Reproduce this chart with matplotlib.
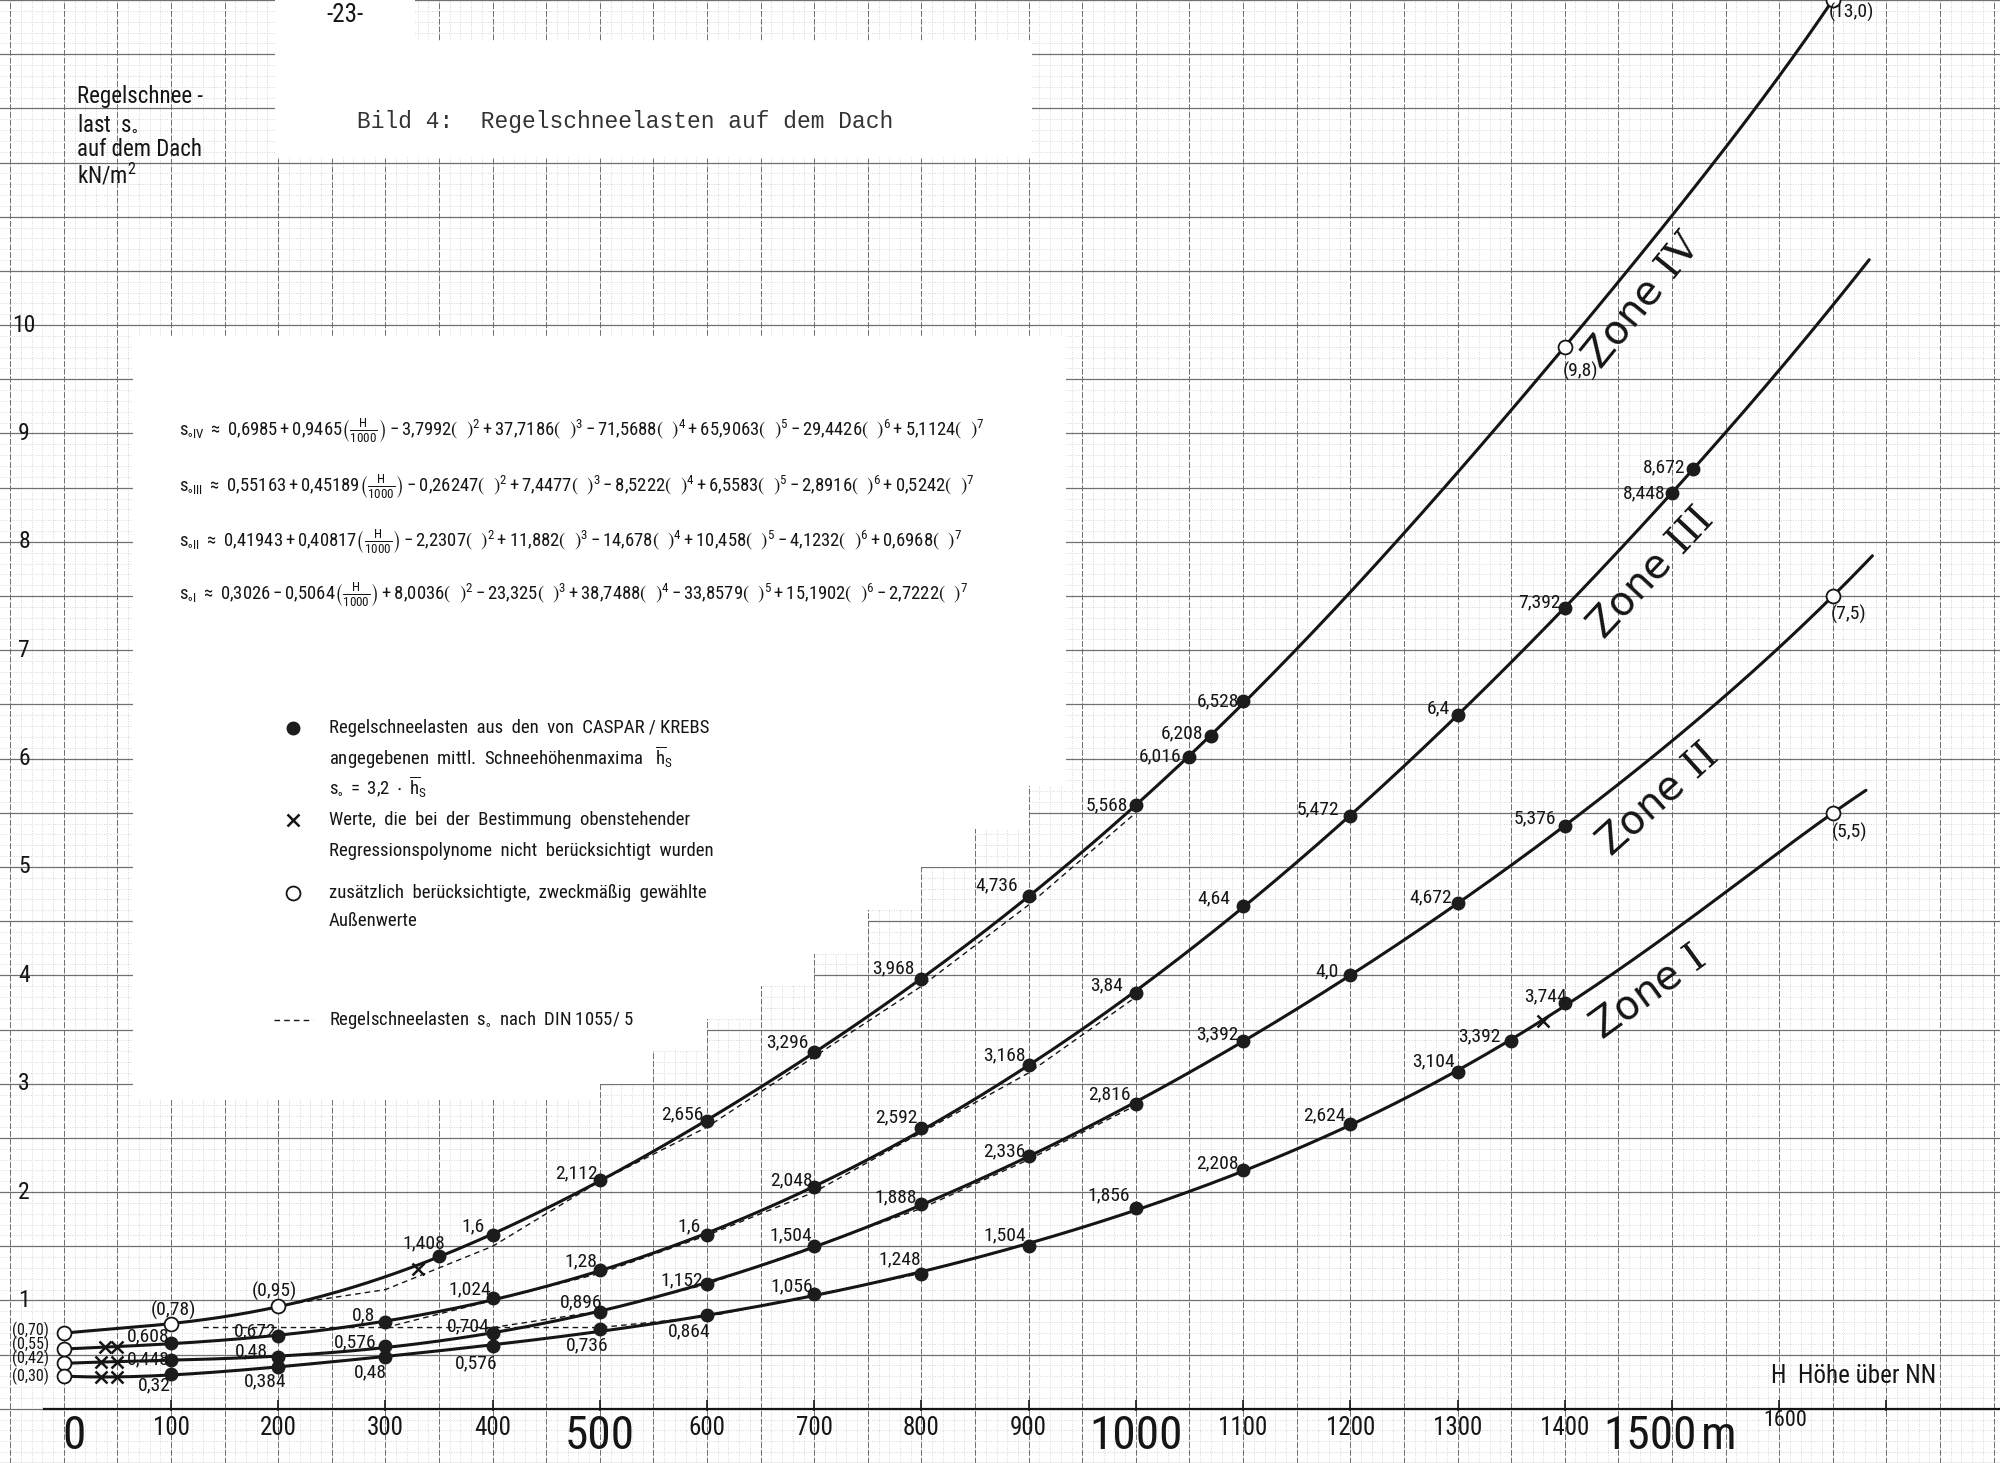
import os
import matplotlib
matplotlib.use("Agg")
import matplotlib.pyplot as plt
from matplotlib import font_manager
from matplotlib.font_manager import FontProperties
from matplotlib.patches import Polygon
import numpy as np

# regression polynomials printed on the sheet: s0 = sum c_k * (H/1000)^k
coef_iv = [0.6985, 0.9465, -3.7992, 37.7186, -71.5688, 65.9063, -29.4426, 5.1124]
coef_iii = [0.55163, 0.45189, -0.26247, 7.4477, -8.5222, 6.5583, -2.8916, 0.5242]
coef_ii = [0.41943, 0.40817, -2.2307, 11.882, -14.678, 10.458, -4.1232, 0.6968]
coef_i = [0.3026, -0.5064, 8.0036, -23.325, 38.7488, -33.8579, 15.1902, -2.7222]
curve_end = {"IV": 1650, "III": 1684, "II": 1687, "I": 1681}

# CASPAR / KREBS values (filled dots)
iv_h = [350, 400, 500, 600, 700, 800, 900, 1000, 1050, 1070, 1100]
iv_s = [1.408, 1.6, 2.112, 2.656, 3.296, 3.968, 4.736, 5.568, 6.016, 6.208, 6.528]
iii_h = [100, 200, 300, 400, 500, 600, 700, 800, 900, 1000, 1100, 1200, 1300, 1400, 1500, 1520]
iii_s = [0.608, 0.672, 0.8, 1.024, 1.28, 1.6, 2.048, 2.592, 3.168, 3.84, 4.64, 5.472, 6.4,
         7.392, 8.448, 8.672]
ii_h = [100, 200, 300, 400, 500, 600, 700, 800, 900, 1000, 1100, 1200, 1300, 1400]
ii_s = [0.448, 0.48, 0.576, 0.704, 0.896, 1.152, 1.504, 1.888, 2.336, 2.816, 3.392, 4.0,
        4.672, 5.376]
i_h = [100, 200, 300, 400, 500, 600, 700, 800, 900, 1000, 1100, 1200, 1300, 1350, 1400]
i_s = [0.32, 0.384, 0.48, 0.576, 0.736, 0.864, 1.056, 1.248, 1.504, 1.856, 2.208, 2.624,
       3.104, 3.392, 3.744]

# chosen boundary values (open circles)
iv_open_h = [0, 100, 200, 1400, 1650]
iv_open_s = [0.70, 0.78, 0.95, 9.8, 13.0]
iii_open_h = [0]
iii_open_s = [0.55]
ii_open_h = [0, 1650]
ii_open_s = [0.42, 7.5]
i_open_h = [0, 1650]
i_open_s = [0.30, 5.5]

# values not used for the regression (crosses)
iv_x_h = [330]
iv_x_s = [1.29]
iii_x_h = [38, 50]
iii_x_s = [0.57, 0.57]
ii_x_h = [35, 50]
ii_x_s = [0.43, 0.43]
i_x_h = [35, 50, 1380]
i_x_s = [0.295, 0.29, 3.58]

# DIN 1055/5 (dashed)
din_iv_h = [200, 300, 400, 500, 600, 700, 800, 900, 1000]
din_iv_s = [0.95, 1.10, 1.50, 2.10, 2.60, 3.25, 3.90, 4.65, 5.50]
din_iii_h = [300, 400, 500, 600, 700, 800, 900, 1000]
din_iii_s = [0.75, 1.00, 1.25, 1.60, 2.00, 2.55, 3.10, 3.80]
din_ii_h = [400, 500, 600, 700, 800, 900, 1000]
din_ii_s = [0.75, 0.90, 1.15, 1.50, 1.85, 2.30, 2.80]
din_i_h = [130, 500, 600, 700, 800]
din_i_s = [0.75, 0.75, 0.85, 1.05, 1.25]

small_xticks = [100, 200, 300, 400, 600, 700, 800, 900, 1100, 1200, 1300, 1400]
big_xticks = [0, 500, 1000]
yticks = list(range(1, 11))

# label offsets (screen px of the reference, right/up positive)
iv_off = [(-12, 10), (-15, 7), (-18, 5), (-19, 5), (-21, 7), (-22, 8), (-25, 8), (-23, 0),
          (-23, 0), (-23, 2), (-20, 0)]
iv_open_off = [(-26, 2), (2, 11), (-3, 11), (12, -19), (15, -10)]
iii_off = [(-18, 5), (-18, 4), (-17, 5), (-18, 7), (-15, 7), (-14, 7), (-18, 5), (-20, 8),
           (-19, 8), (-23, 6), (-23, 6), (-25, 5), (-15, 5), (-20, 4), (-22, 0), (-23, 1)]
iii_open_off = [(-26, 4)]
ii_off = [(-18, 1), (-21, 4), (-24, 3), (-19, 5), (-15, 7), (-20, 3), (-18, 8), (-20, 5),
          (-19, 3), (-21, 7), (-20, 5), (-18, 3), (-21, 4), (-23, 6)]
ii_open_off = [(-26, 4), (12, -14)]
i_off = [(-13, -9), (-10, -11), (-12, -12), (-13, -13), (-10, -13), (-14, -13), (-18, 6),
         (-17, 11), (-19, 8), (-21, 10), (-20, 5), (-20, 7), (-19, 9), (-25, 4), (-15, 5)]
i_open_off = [(-26, 0), (13, -15)]

# the sheet is lettered in a narrow stencil face; use a condensed font if one is installed
prefer = ["LiberationSansNarrow-Regular", "NotoSans-Condensed.", "NotoSans-Condensed-",
          "RobotoCondensed-Regular", "OpenSans-CondensedRegular", "OpenSans_Condensed-Regular",
          "DejaVuSansCondensed.", "NotoSans-SemiCondensed.", "NotoSans-ExtraCondensed."]
files = [f.fname for f in font_manager.fontManager.ttflist]
narrow_file = None
for p in prefer:
    hit = [f for f in files if os.path.basename(f).startswith(p)]
    if hit:
        narrow_file = hit[0]
        break
if narrow_file is None:
    hit = [f for f in files if ("Condensed" in f or "Narrow" in f)
           and "Bold" not in f and "Italic" not in f and "Light" not in f]
    narrow_file = hit[0] if hit else None

if narrow_file:
    narrow_name = FontProperties(fname=narrow_file).get_name()
    plt.rcParams["mathtext.rm"] = narrow_name
    plt.rcParams["mathtext.it"] = narrow_name
    plt.rcParams["mathtext.sf"] = narrow_name
    plt.rcParams["mathtext.bf"] = narrow_name
    plt.rcParams["mathtext.fallback"] = "stixsans"
    mff = "custom"
else:
    mff = "dejavusans"


def nfp(size):
    if narrow_file:
        return FontProperties(fname=narrow_file, size=size)
    return FontProperties(family="DejaVu Sans", size=size * 0.82)


names = {f.name for f in font_manager.fontManager.ttflist}
mono = "Liberation Mono" if "Liberation Mono" in names else "DejaVu Sans Mono"

ink = "#151515"

fig = plt.figure(figsize=(20, 14.63), dpi=100)
ax = fig.add_axes([0, 0, 1, 1])
ax.set_xlim(-59.5, 1806)
ax.set_ylim(-0.5, 13.0)
ax.axis("off")

# graph paper
ax.vlines(np.arange(-50, 1810, 10), -0.5, 13, colors="#b4b4b4", lw=0.5,
          linestyles=(0, (1, 2.5)), zorder=0)
ax.hlines(np.arange(-0.5, 13.01, 0.1), -60, 1810, colors="#b4b4b4", lw=0.5,
          linestyles=(0, (1, 2.5)), zorder=0)
ax.vlines(np.arange(-50, 1810, 50), -0.5, 13, colors="#6e6e6e", lw=0.7,
          linestyles=(0, (6, 2)), zorder=0.2)
ax.hlines(np.arange(-0.5, 13.01, 0.5), -60, 1810, colors="#707070", lw=0.9, zorder=0.2)

# blank areas pasted over the paper
steps = [(500, 2.85), (550, 3.0), (600, 3.3), (650, 3.6), (700, 3.9), (750, 4.2),
         (800, 4.6), (850, 5.0), (900, 5.35), (935, 5.75)]
poly = [(65, 9.9), (935, 9.9)]
for (h0, s0), (h1, s1) in zip(steps[::-1][:-1], steps[::-1][1:]):
    poly += [(h0, s0), (h1, s0)]
poly += [(500, 2.85), (65, 2.85)]
ax.add_patch(Polygon(poly, closed=True, fc="white", ec="none", zorder=1))
ax.add_patch(Polygon([(197, 11.55), (903, 11.55), (903, 12.62), (328, 12.62), (328, 13.1),
                      (197, 13.1)], closed=True, fc="white", ec="none", zorder=1))

# axis line and ticks
ax.plot([-18, 1806], [0, 0], color=ink, lw=1.6, zorder=2)
ax.vlines(np.arange(100, 1800, 100), -0.02, 0.08, colors=ink, lw=1.2, zorder=2)
for t in small_xticks:
    ax.text(t, -0.18, str(t), ha="center", va="center", fontproperties=nfp(18), color=ink)
ax.text(1606, -0.11, "1600", ha="center", va="center", fontproperties=nfp(16), color=ink)
for t in big_xticks:
    ax.text(t + (10 if t == 0 else 0), -0.25, str(t), ha="center", va="center",
            fontproperties=nfp(34), color=ink)
ax.text(1523, -0.25, "1500", ha="right", va="center", fontproperties=nfp(34), color=ink)
ax.text(1527, -0.25, "m", ha="left", va="center", fontproperties=nfp(34), color=ink)
for t in yticks:
    ax.text(-37, t, str(t), ha="center", va="center", fontproperties=nfp(17), color=ink)
ax.text(1592, 0.3, "H  Höhe über NN", ha="left", va="center", fontproperties=nfp(18),
        color=ink)

ylab = ["Regelschnee -", r"last  $\mathrm{s}_{\circ}$", "auf dem Dach", r"kN/m$^{2}$"]
for line, yy in zip(ylab, [12.11, 11.86, 11.62, 11.38]):
    ax.text(12, yy, line, ha="left", va="center", fontproperties=nfp(16.5), color=ink,
            math_fontfamily=mff, zorder=5)
ax.text(524, 11.88, "Bild 4:  Regelschneelasten auf dem Dach", ha="center", va="center",
        fontsize=16.5, family=mono, color="#333333", zorder=5)
ax.text(262, 12.86, "-23-", ha="center", va="center", fontproperties=nfp(18), color=ink,
        zorder=5)

# curves, DIN lines and points
zones = [
    ("IV", coef_iv, iv_h, iv_s, iv_off, iv_open_h, iv_open_s, iv_open_off, iv_x_h, iv_x_s,
     din_iv_h, din_iv_s),
    ("III", coef_iii, iii_h, iii_s, iii_off, iii_open_h, iii_open_s, iii_open_off, iii_x_h,
     iii_x_s, din_iii_h, din_iii_s),
    ("II", coef_ii, ii_h, ii_s, ii_off, ii_open_h, ii_open_s, ii_open_off, ii_x_h, ii_x_s,
     din_ii_h, din_ii_s),
    ("I", coef_i, i_h, i_s, i_off, i_open_h, i_open_s, i_open_off, i_x_h, i_x_s, din_i_h,
     din_i_s),
]


def num(v):
    s = f"{v:g}"
    if "." not in s:
        s += ".0"
    return s.replace(".", ",")


def open_num(v):
    return "(" + (f"{v:.2f}" if v < 1 else f"{v:.1f}").replace(".", ",") + ")"


for name, coef, h, s, off, oh, os_, ooff, xh, xs, dh, ds in zones:
    hh = np.linspace(0, curve_end[name], 600)
    ax.plot(hh, np.polynomial.polynomial.polyval(hh / 1000, coef), color=ink, lw=2.2,
            zorder=3, solid_capstyle="round")
    ax.plot(dh, ds, color=ink, lw=1.0, ls=(0, (4, 3)), zorder=2.5)
    ax.plot(h, s, "o", ms=9, color="#1c1c1c", zorder=4)
    ax.plot(oh, os_, "o", ms=10, mfc="white", mec=ink, mew=1.3, zorder=4)
    ax.plot(xh, xs, "x", ms=8, color=ink, mew=1.8, zorder=4)
    for hv, sv, (dx, dy) in zip(h, s, off):
        ax.annotate(num(sv), (hv, sv), xytext=(dx * 0.92, dy * 0.92),
                    textcoords="offset points", ha="center", va="center",
                    fontproperties=nfp(14), color=ink, zorder=5)
    for hv, sv, (dx, dy) in zip(oh, os_, ooff):
        ax.annotate(open_num(sv), (hv, sv), xytext=(dx * 0.92, dy * 0.92),
                    textcoords="offset points", ha="center", va="center",
                    fontproperties=nfp(11.5 if hv == 0 else 14), color=ink, zorder=5)

zone_pos = {"IV": (1473, 10.23, 51), "III": (1480, 7.71, 47), "II": (1487, 5.62, 42),
            "I": (1478, 3.84, 36)}
for name, (zh, zs, rot) in zone_pos.items():
    ax.text(zh, zs, r"Zone $\mathrm{" + name + "}$", rotation=rot, rotation_mode="anchor",
            ha="center", va="center", fontsize=29, color=ink, math_fontfamily="dejavuserif",
            zorder=5)


# formulas
def fmt(c):
    return f"{abs(c):g}".replace(".", "{,}")


def formula(name, coef):
    s = r"\mathrm{s}_{\circ\mathrm{" + name + r"}}\ \approx\ " + fmt(coef[0])
    for i, c in enumerate(coef[1:], start=1):
        s += ("-" if c < 0 else "+") + fmt(c)
        if i == 1:
            s += r"\left(\frac{\mathrm{H}}{1000}\right)"
        else:
            s += r"\left(\ \ \right)^{" + str(i) + "}"
    return "$" + s + "$"


for (name, coef), yy in zip([("IV", coef_iv), ("III", coef_iii), ("II", coef_ii),
                             ("I", coef_i)], [9.02, 8.51, 8.0, 7.51]):
    ax.text(107, yy, formula(name, coef), ha="left", va="center",
            fontsize=13.4 if narrow_file else 10.5, color=ink, math_fontfamily=mff, zorder=5)

# key
ax.plot([214], [6.28], "o", ms=9, color="#1c1c1c", zorder=4)
ax.plot([214], [5.43], "x", ms=8, color=ink, mew=1.8, zorder=4)
ax.plot([214], [4.76], "o", ms=10, mfc="white", mec=ink, mew=1.3, zorder=4)
ax.plot([196, 232], [3.59, 3.59], color=ink, lw=1.0, ls=(0, (4, 3)), zorder=4)
key = [
    ("Regelschneelasten  aus  den  von  CASPAR / KREBS", 6.28),
    (r"angegebenen  mittl.  Schneehöhenmaxima   $\overline{\mathrm{h}}_{\mathrm{S}}$", 6.01),
    (r"$\mathrm{s}_{\circ}\ =\ 3{,}2\ \cdot\ \overline{\mathrm{h}}_{\mathrm{S}}$", 5.74),
    ("Werte,  die  bei  der  Bestimmung  obenstehender", 5.43),
    ("Regressionspolynome  nicht  berücksichtigt  wurden", 5.15),
    ("zusätzlich  berücksichtigte,  zweckmäßig  gewählte", 4.76),
    ("Außenwerte", 4.50),
    (r"Regelschneelasten  $\mathrm{s}_{\circ}$  nach  DIN 1055/ 5", 3.59),
]
for line, yy in key:
    ax.text(247, yy, line, ha="left", va="center", fontproperties=nfp(13.5), color=ink,
            math_fontfamily=mff, zorder=5)

fig.savefig("out.png", dpi=100)
